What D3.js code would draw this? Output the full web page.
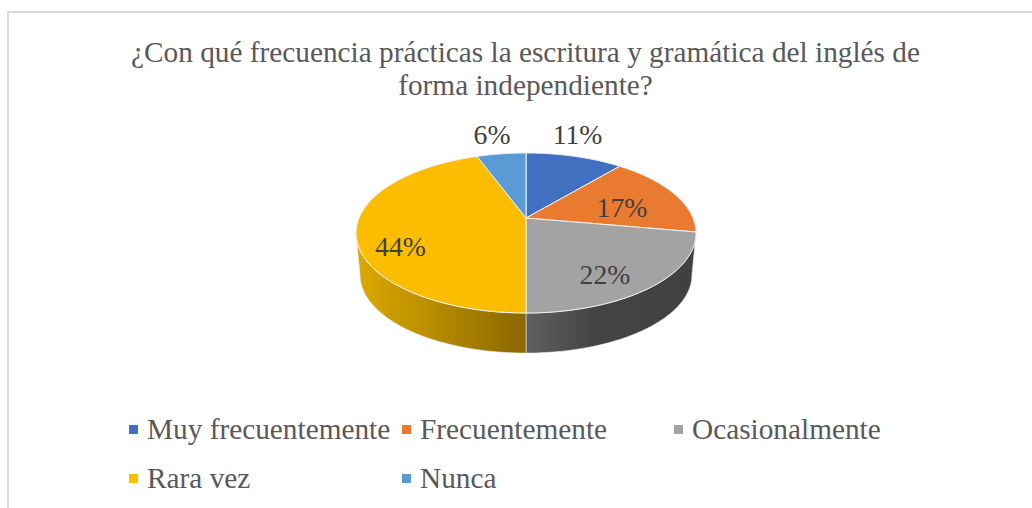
<!DOCTYPE html>
<html>
<head>
<meta charset="utf-8">
<script src="https://cdn.jsdelivr.net/npm/d3@7"></script>
<style>
  html, body { margin: 0; padding: 0; background: #fff; }
  svg { display: block; }
  text { font-family: "Liberation Serif", serif; }
</style>
</head>
<body>
<script>
// (labels round to 11, 17, 22, 44, 6)
var categories = ["Muy frecuentemente", "Frecuentemente", "Ocasionalmente", "Rara vez", "Nunca"];
var values = [11.1, 16.7, 22.2, 44.4, 5.6];
var colors = ["#4170c0", "#ea7a30", "#a3a3a3", "#fcbd00", "#5b9bd5"];
var titleLines = ["¿Con qué frecuencia prácticas la escritura y gramática del inglés de", "forma independiente?"];

var width = 1032, height = 508;
var svg = d3.select("body").append("svg").attr("width", width).attr("height", height);

// chart frame, cut off on the right and at the bottom
svg.append("path")
  .attr("d", "M8,508V12H1032")
  .attr("fill", "none")
  .attr("stroke", "#d9d9d9")
  .attr("stroke-width", 2);

svg.selectAll(".title").data(titleLines).enter().append("text")
  .attr("class", "title")
  .attr("x", 525.5)
  .attr("y", function (d, i) { return 62 + i * 33; })
  .attr("text-anchor", "middle")
  .attr("font-size", 29.3)
  .attr("fill", "#595959")
  .text(function (d) { return d; });

// pie angles from d3, then tilted with a perspective so far side looks smaller
var pie = d3.pie().sort(null).value(function (d) { return d; });
var arcs = pie(values);
var k = 0.1875;

function rim(theta, cx, cy, rx, ry) {
  var w = 1 + k * Math.cos(theta);
  return [cx + rx * Math.sin(theta) / w, cy - ry * Math.cos(theta) / w];
}
function topRim(t) { return rim(t, 526, 218, 167, 77.2); }
function lowRim(t) { return rim(t, 526, 260.4, 163, 75.3); }
function steps(a, b) { return d3.range(0, 61).map(function (i) { return a + (b - a) * i / 60; }); }

var defs = svg.append("defs");
var leftEdge = Math.PI * 2 - Math.acos(-k);
var rightEdge = Math.acos(-k);

function wallGradient(id, x1, x2, stops) {
  var g = defs.append("linearGradient").attr("id", id)
    .attr("gradientUnits", "userSpaceOnUse")
    .attr("x1", x1).attr("x2", x2).attr("y1", 0).attr("y2", 0);
  stops.forEach(function (s) {
    g.append("stop").attr("offset", s[0]).attr("stop-color", s[1]);
  });
}
wallGradient("wall2", 526, 696, [[0, "#606060"], [0.4, "#444444"], [1, "#404040"]]);
wallGradient("wall3", 356, 526, [[0, "#dcaa00"], [0.35, "#c09300"], [1, "#8a6700"]]);

// side walls, only the slices that face the viewer
[[2, "url(#wall2)"], [3, "url(#wall3)"]].forEach(function (w) {
  var a = Math.max(arcs[w[0]].startAngle, rightEdge);
  var b = Math.min(arcs[w[0]].endAngle, leftEdge);
  var pts = steps(a, b).map(topRim).concat(steps(b, a).map(lowRim));
  svg.append("path")
    .attr("d", d3.line()(pts) + "Z")
    .attr("fill", w[1])
    .attr("stroke", "#e8e8e8")
    .attr("stroke-width", 0.6);
});

// top faces
svg.selectAll(".slice").data(arcs).enter().append("path")
  .attr("class", "slice")
  .attr("d", function (d) {
    return d3.line()([[526, 218]].concat(steps(d.startAngle, d.endAngle).map(topRim))) + "Z";
  })
  .attr("fill", function (d, i) { return colors[i]; })
  .attr("stroke", "#f2f2f2")
  .attr("stroke-width", 1);

// data labels
var labelFormat = d3.format(".0f");
var labelPos = [[577.5, 144], [622, 216.5], [605, 284], [400.5, 256], [492, 144]];
svg.selectAll(".label").data(arcs).enter().append("text")
  .attr("class", "label")
  .attr("x", function (d, i) { return labelPos[i][0]; })
  .attr("y", function (d, i) { return labelPos[i][1]; })
  .attr("text-anchor", "middle")
  .attr("font-size", 27.7)
  .attr("fill", "#404040")
  .text(function (d) { return labelFormat(d.data) + "%"; });

// legend
var legendX = [129, 402, 674];
var legendY = [439, 488];
var legend = svg.selectAll(".legend").data(categories).enter().append("g")
  .attr("class", "legend")
  .attr("transform", function (d, i) {
    return "translate(" + legendX[i % 3] + "," + legendY[Math.floor(i / 3)] + ")";
  });
legend.append("rect")
  .attr("x", 0).attr("y", -14).attr("width", 9).attr("height", 9)
  .attr("fill", function (d, i) { return colors[i]; });
legend.append("text")
  .attr("x", 18)
  .attr("font-size", 29.3)
  .attr("fill", "#595959")
  .text(function (d) { return d; });
</script>
</body>
</html>
